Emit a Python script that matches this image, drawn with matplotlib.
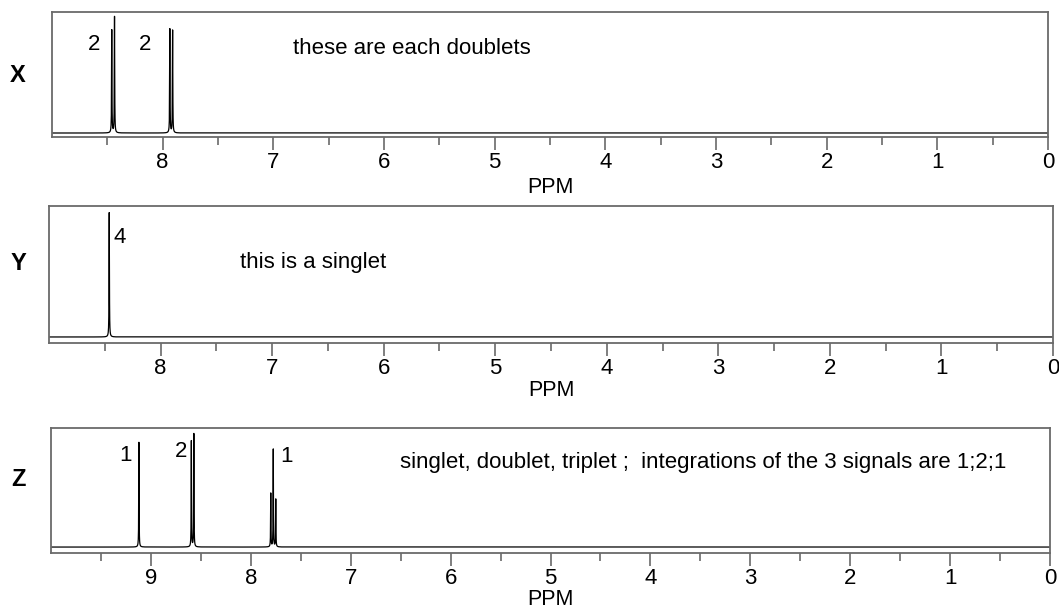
import numpy as np
import matplotlib
matplotlib.use("Agg")
import matplotlib.pyplot as plt

plt.rcParams["font.family"] = ["Liberation Sans", "DejaVu Sans"]

# peak lists (ppm, relative height)
x_shifts = [8.46, 8.435, 7.935, 7.91]
x_heights = [0.85, 0.96, 0.86, 0.85]
y_shifts = [8.46]
y_heights = [0.95]
z_shifts = [9.12, 8.595, 8.57, 7.80, 7.775, 7.75]
z_heights = [0.88, 0.89, 0.95, 0.45, 0.82, 0.40]

panel_names = ["X", "Y", "Z"]
x_notes = [("2", 8.62, 0.73), ("2", 8.16, 0.73)]
y_notes = [("4", 8.37, 0.76)]
z_notes = [("1", 9.25, 0.77), ("2", 8.70, 0.80), ("1", 7.64, 0.76)]
x_comment = ("these are each doublets", 6.82, 0.70)
y_comment = ("this is a singlet", 7.29, 0.565)
z_comment = ("singlet, doublet, triplet ;  integrations of the 3 signals are 1;2;1", 6.51, 0.71)

GRAY = "#6a6a6a"


def spectrum(ppm, shifts, heights, width=0.0018):
    y = np.zeros_like(ppm)
    for s, h in zip(shifts, heights):
        y += h * width**2 / ((ppm - s) ** 2 + width**2)
    return y


def draw_panel(ax, shifts, heights, xmax, ybottom, notes, comment, lpad):
    ppm = np.linspace(0, xmax, 40001)
    ax.plot(ppm, spectrum(ppm, shifts, heights), color="black", lw=0.9)
    ax.set_xlim(xmax, 0)
    ax.set_ylim(ybottom, 1.0)
    ax.set_yticks([])
    ax.set_xticks(np.arange(0, int(xmax)))
    ax.set_xticks(np.arange(0.5, xmax, 1.0), minor=True)
    ax.tick_params(axis="x", which="major", length=9, width=1.2, color=GRAY,
                   labelsize=16, pad=2)
    ax.tick_params(axis="x", which="minor", length=5.5, width=1.2, color=GRAY)
    for sp in ax.spines.values():
        sp.set_color(GRAY)
        sp.set_linewidth(1.3)
    ax.set_xlabel("PPM", fontsize=15.5, labelpad=lpad)
    for txt, px, py in notes:
        ax.text(px, py, txt, fontsize=16, ha="center", va="center")
    txt, px, py = comment
    ax.text(px, py, txt, fontsize=16, ha="left", va="center")


fig = plt.figure(figsize=(10.59, 6.09), dpi=100)
W, H = 1059, 609

ax_x = fig.add_axes([52 / W, 1 - 137 / H, 996 / W, 125 / H])
ax_y = fig.add_axes([49 / W, 1 - 343 / H, 1004 / W, 137 / H])
ax_z = fig.add_axes([51 / W, 1 - 553 / H, 999 / W, 125 / H])

draw_panel(ax_x, x_shifts, x_heights, 9.0, -0.033, x_notes, x_comment, 3)
draw_panel(ax_y, y_shifts, y_heights, 9.0, -0.046, y_notes, y_comment, 0.5)
draw_panel(ax_z, z_shifts, z_heights, 10.0, -0.05, z_notes, z_comment, 0)

for name, ypix in zip(panel_names, [75, 263, 480]):
    fig.text(18 / W, 1 - ypix / H, name, fontsize=17, fontweight="bold",
             ha="center", va="center")

fig.savefig("out.png", dpi=100)
